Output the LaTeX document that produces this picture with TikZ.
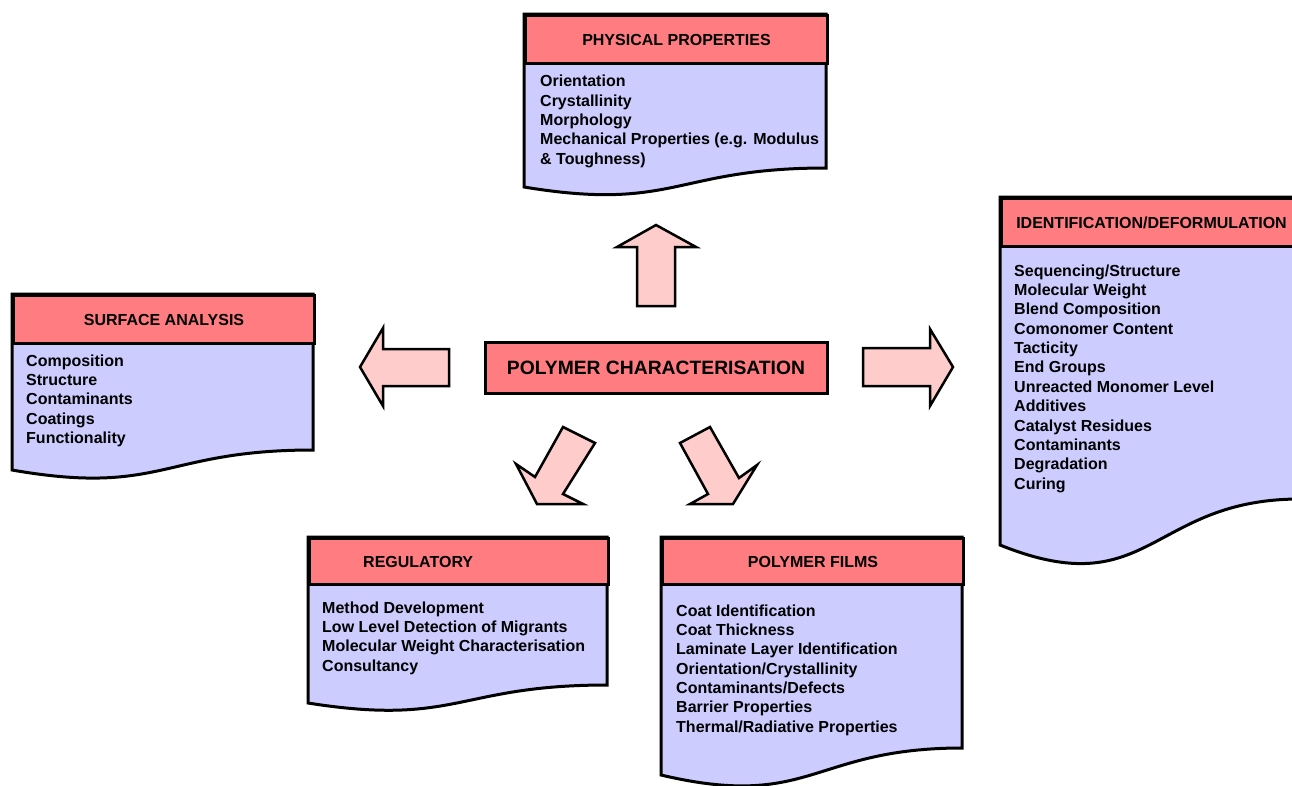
\documentclass[tikz,border=0pt]{standalone}
\usepackage{fontspec}
\setmainfont{Liberation Sans}
\definecolor{hdrc}{HTML}{FF7C80}
\definecolor{bodyc}{HTML}{CCCCFF}
\definecolor{arrowc}{HTML}{FFCCCC}
\newcommand\mydoc[5]{%
  \pgfmathsetmacro\dm{(#1+#2)/2}%
  \pgfmathsetmacro\dc{#5+1.314*(#5-#4)}%
  \draw[docbody] (#1,#3) -- (#2,#3) -- (#2,#4) .. controls (\dm,#4) and (\dm,\dc) .. (#1,#5) -- cycle;}
\tikzset{
  docbody/.style={fill=bodyc, draw=black, line width=3pt, line join=miter},
  hdrbox/.style={draw=black, fill=hdrc, line width=3pt, inner sep=0pt, anchor=north west,
    font=\fontsize{16}{19.35}\selectfont\bfseries},
  hdrtext/.style={inner sep=0pt, anchor=west, font=\fontsize{16}{19.35}\selectfont\bfseries},
  items/.style={anchor=north west, align=left, inner sep=0pt,
    font=\fontsize{16}{19.35}\selectfont\bfseries},
  centerbox/.style={draw=black, fill=hdrc, line width=3pt, inner sep=0pt,
    minimum width=342pt, minimum height=51pt, font=\fontsize{19.3}{22}\selectfont\bfseries},
  blockarrow/.style={fill=arrowc, draw=black, line width=2.5pt, line join=miter},
}
\newcommand\fs{\rule{0pt}{13pt}}
\begin{document}
\begin{tikzpicture}[x=1pt,y=-1pt]
\clip (0,0) rectangle (1292,785);
\fill[white] (0,0) rectangle (1292,785);

% central node
\node[centerbox] (center) at (656,367.5) {POLYMER CHARACTERISATION};

% block arrows
\draw[blockarrow] (656,225) -- (696,247) -- (675,247) -- (675,306) -- (637,306) -- (637,247) -- (617,247) -- cycle;
\draw[blockarrow] (360,367) -- (383,328) -- (383,349) -- (449,349) -- (449,386) -- (383,386) -- (383,406) -- cycle;
\draw[blockarrow] (953,367) -- (930,329) -- (930,348) -- (863,348) -- (863,386) -- (930,386) -- (930,406) -- cycle;
\draw[blockarrow] (563,427) -- (595,443) -- (563,494) -- (583,504) -- (537,504) -- (516,464) -- (535,477) -- cycle;
\draw[blockarrow] (710,427) -- (739,478) -- (757,465) -- (733,504) -- (690,504) -- (708,494) -- (680,443) -- cycle;

% PHYSICAL PROPERTIES
\mydoc{524}{826}{14}{168}{187}
\node[hdrbox, minimum width=302pt, minimum height=48pt] (phys) at (524,14) {PHYSICAL PROPERTIES};
\node[items] (physitems) at (540,73.5) {\fs Orientation\\Crystallinity\\Morphology\\Mechanical Properties (e.g. Modulus\\\& Toughness)};

% SURFACE ANALYSIS
\mydoc{12}{313}{294}{450}{470}
\node[hdrbox, minimum width=301pt, minimum height=48pt] (surf) at (12,294) {SURFACE ANALYSIS};
\node[items] (surfitems) at (26,353) {\fs Composition\\Structure\\Contaminants\\Coatings\\Functionality};

% IDENTIFICATION/DEFORMULATION
\mydoc{1000}{1300}{197}{499}{545}
\node[hdrbox, minimum width=300pt, minimum height=48pt] (ident) at (1000,197) {IDENTIFICATION/DEFORMULATION};
\node[items] (identitems) at (1014,263) {\fs Sequencing/Structure\\Molecular Weight\\Blend Composition\\Comonomer Content\\Tacticity\\End Groups\\Unreacted Monomer Level\\Additives\\Catalyst Residues\\Contaminants\\Degradation\\Curing};

% REGULATORY
\mydoc{308}{607}{537}{685}{703}
\node[hdrbox, minimum width=299pt, minimum height=46pt] (reg) at (308,537) {};
\node[hdrtext] (regtitle) at (363,561.5) {REGULATORY};
\node[items] (regitems) at (322,600) {\fs Method Development\\Low Level Detection of Migrants\\Molecular Weight Characterisation\\Consultancy};

% POLYMER FILMS
\mydoc{661}{962}{537}{748}{775}
\node[hdrbox, minimum width=301pt, minimum height=46pt] (films) at (661,537) {POLYMER FILMS};
\node[items] (filmsitems) at (676,603) {\fs Coat Identification\\Coat Thickness\\Laminate Layer Identification\\Orientation/Crystallinity\\Contaminants/Defects\\Barrier Properties\\Thermal/Radiative Properties};
\end{tikzpicture}
\end{document}
